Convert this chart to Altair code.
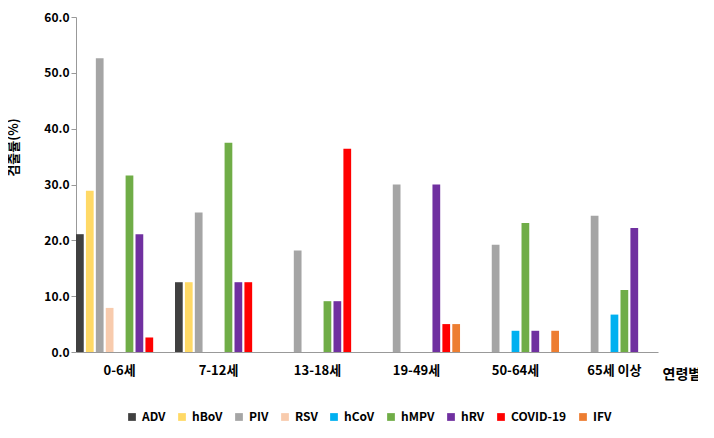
import altair as alt
import pandas as pd

groups = ["0-6세", "7-12세", "13-18세", "19-49세", "50-64세", "65세 이상"]
viruses = ["ADV", "hBoV", "PIV", "RSV", "hCoV", "hMPV", "hRV", "COVID-19", "IFV"]
colors = ["#404040", "#FFD966", "#A5A5A5", "#F8CBAD", "#00B0F0",
          "#70AD47", "#7030A0", "#FF0000", "#ED7D31"]

# None = not detected in that age group
values = {
    "0-6세":    [21.1, 28.9, 52.6, 7.9, None, 31.6, 21.1, 2.6, None],
    "7-12세":   [12.5, 12.5, 25.0, None, None, 37.5, 12.5, 12.5, None],
    "13-18세":  [None, None, 18.2, None, None, 9.1, 9.1, 36.4, None],
    "19-49세":  [None, None, 30.0, None, None, None, 30.0, 5.0, 5.0],
    "50-64세":  [None, None, 19.2, None, 3.8, 23.1, 3.8, None, 3.8],
    "65세 이상": [None, None, 24.4, None, 6.7, 11.1, 22.2, None, None],
}

rows = [
    {"group": g, "virus": v, "rate": r}
    for g in groups
    for v, r in zip(viruses, values[g])
    if r is not None
]
df = pd.DataFrame(rows)

font = "Noto Sans CJK KR"

chart = alt.Chart(df).mark_bar().encode(
    x=alt.X("group:N", sort=groups, scale=alt.Scale(paddingInner=0.12, paddingOuter=0.0),
            axis=alt.Axis(title="연령별", labelAngle=0, ticks=False, labelPadding=12,
                          labelFontSize=13, labelFontWeight="bold", domainColor="#999",
                          titleX=586, titleY=22, titleAlign="left", titleBaseline="middle",
                          titleFontSize=14, titleFontWeight="bold")),
    xOffset=alt.XOffset("virus:N", sort=viruses, scale=alt.Scale(domain=viruses, paddingInner=0.22)),
    y=alt.Y("rate:Q", scale=alt.Scale(domain=[0, 60]),
            axis=alt.Axis(title="검출률(%)", format=".1f", values=[0, 10, 20, 30, 40, 50, 60],
                          grid=False, labelFontSize=12, labelFontWeight="bold",
                          domainColor="#999", tickColor="#999",
                          titleX=-56, titleY=130, titleFontSize=13, titleFontWeight="bold")),
    color=alt.Color("virus:N", sort=viruses,
                    scale=alt.Scale(domain=viruses, range=colors),
                    legend=alt.Legend(title=None, orient="none", direction="horizontal",
                                      legendX=50, legendY=394, columns=9,
                                      symbolType="square", symbolSize=60,
                                      labelFontSize=12, labelFontWeight="bold",
                                      columnPadding=10)),
).properties(
    width=582, height=335,
    autosize=alt.AutoSizeParams(type="none"),
    padding={"left": 68, "top": 9, "right": 40, "bottom": 70},
).configure(font=font).configure_view(stroke=None)

chart.save("out.html", embed_options={"renderer": "svg", "actions": False})
